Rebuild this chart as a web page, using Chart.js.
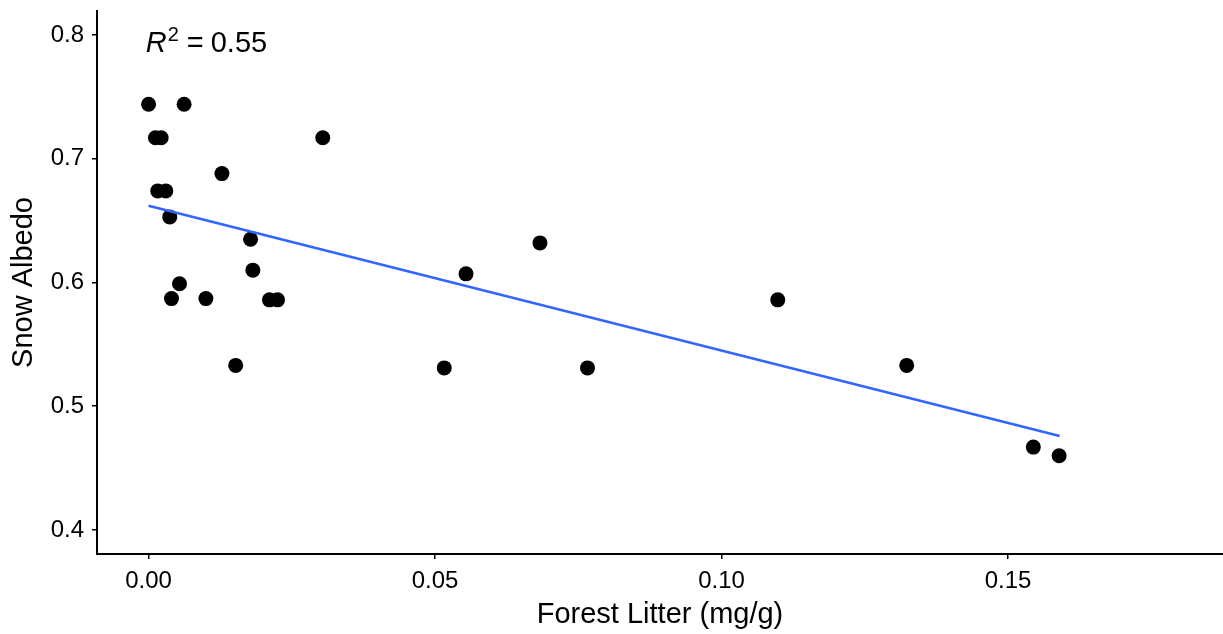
<!DOCTYPE html>
<html>
<head>
<meta charset="utf-8">
<script src="https://cdn.jsdelivr.net/npm/chart.js@4"></script>
<style>
  body { margin: 0; background: #fff; overflow: hidden; }
  #wrap { width: 1223px; height: 634px; }
</style>
</head>
<body>
<div id="wrap"><canvas id="scatter"></canvas></div>
<script>
// Forest litter (mg/g) vs snow albedo
const litter = [0.0000, 0.0062, 0.0012, 0.0022, 0.0304, 0.0128, 0.0016, 0.0030, 0.0037, 0.0178,
                0.0182, 0.0054, 0.0040, 0.0100, 0.0211, 0.0225, 0.0152, 0.0516, 0.0554, 0.0683,
                0.0766, 0.1098, 0.1323, 0.1544, 0.1589];
const albedo = [0.744, 0.744, 0.717, 0.717, 0.717, 0.688, 0.674, 0.674, 0.653, 0.635,
                0.610, 0.599, 0.587, 0.587, 0.586, 0.586, 0.533, 0.531, 0.607, 0.632,
                0.531, 0.586, 0.533, 0.467, 0.460];

// fitted line ends
const fitX = [0.0, 0.159];
const fitY = [0.662, 0.476];

const xTicks = [0, 0.05, 0.10, 0.15];
const xTickLabels = ["0.00", "0.05", "0.10", "0.15"];
const yTicks = [0.4, 0.5, 0.6, 0.7, 0.8];
const yTickLabels = ["0.4", "0.5", "0.6", "0.7", "0.8"];

const annX = -0.0005, annY = 0.7863;

const FONT = "'Liberation Sans', Arial, sans-serif";

const points = litter.map((x, i) => ({ x: x, y: albedo[i] }));
const fitLine = fitX.map((x, i) => ({ x: x, y: fitY[i] }));

// R^2 label drawn in data coordinates
const r2Label = {
  id: "r2Label",
  afterDraw(chart) {
    const c = chart.ctx;
    const px = chart.scales.x.getPixelForValue(annX);
    const py = chart.scales.y.getPixelForValue(annY);
    c.save();
    c.fillStyle = "#000";
    c.textBaseline = "alphabetic";
    c.textAlign = "left";
    c.font = "italic 29px " + FONT;
    c.fillText("R", px, py);
    c.font = "20px " + FONT;
    c.fillText("2", px + 22, py - 11);
    c.font = "29px " + FONT;
    c.fillText("=", px + 41, py);
    c.fillText("0.55", px + 65, py);
    c.restore();
  }
};

function axisBase(ticks, labels) {
  return {
    type: "linear",
    afterBuildTicks: s => { s.ticks = ticks.map(v => ({ value: v })); },
    ticks: {
      callback: (v, i) => labels[i],
      color: "#000",
      padding: 8,
      font: { family: FONT, size: 24 }
    },
    grid: { display: true, drawOnChartArea: false, drawTicks: true, tickLength: 5, color: "#000", lineWidth: 1.5 },
    border: { display: true, color: "#000", width: 2 }
  };
}

const xAxis = axisBase(xTicks, xTickLabels);
xAxis.min = -0.009;
xAxis.max = 0.1875;
xAxis.afterFit = s => { s.height = 80; s.paddingLeft = 0; s.paddingRight = 0; };
xAxis.title = { display: true, text: "Forest Litter (mg/g)", color: "#000",
  font: { family: FONT, size: 29, lineHeight: 1.2 }, padding: { top: 4, bottom: 2 } };

const yAxis = axisBase(yTicks, yTickLabels);
yAxis.min = 0.3806;
yAxis.max = 0.8194;
yAxis.afterFit = s => { s.width = 97; s.paddingTop = 0; s.paddingBottom = 0; };
yAxis.title = { display: true, text: "Snow Albedo", color: "#000",
  font: { family: FONT, size: 29, lineHeight: 1.2 }, padding: { top: 7, bottom: 0 } };

new Chart(document.getElementById("scatter"), {
  type: "scatter",
  data: {
    datasets: [
      {
        type: "line",
        data: fitLine,
        borderColor: "#3366FF",
        borderWidth: 2.7,
        pointRadius: 0,
        fill: false,
        order: 0
      },
      {
        data: points,
        backgroundColor: "#000",
        borderWidth: 0,
        pointRadius: 7.5,
        pointHoverRadius: 7.5,
        order: 1
      }
    ]
  },
  options: {
    responsive: true,
    maintainAspectRatio: false,
    animation: false,
    layout: { autoPadding: false, padding: { top: 11, right: 0, bottom: 0, left: 0 } },
    plugins: { legend: { display: false }, tooltip: { enabled: false } },
    scales: { x: xAxis, y: yAxis }
  },
  plugins: [r2Label]
});
</script>
</body>
</html>
